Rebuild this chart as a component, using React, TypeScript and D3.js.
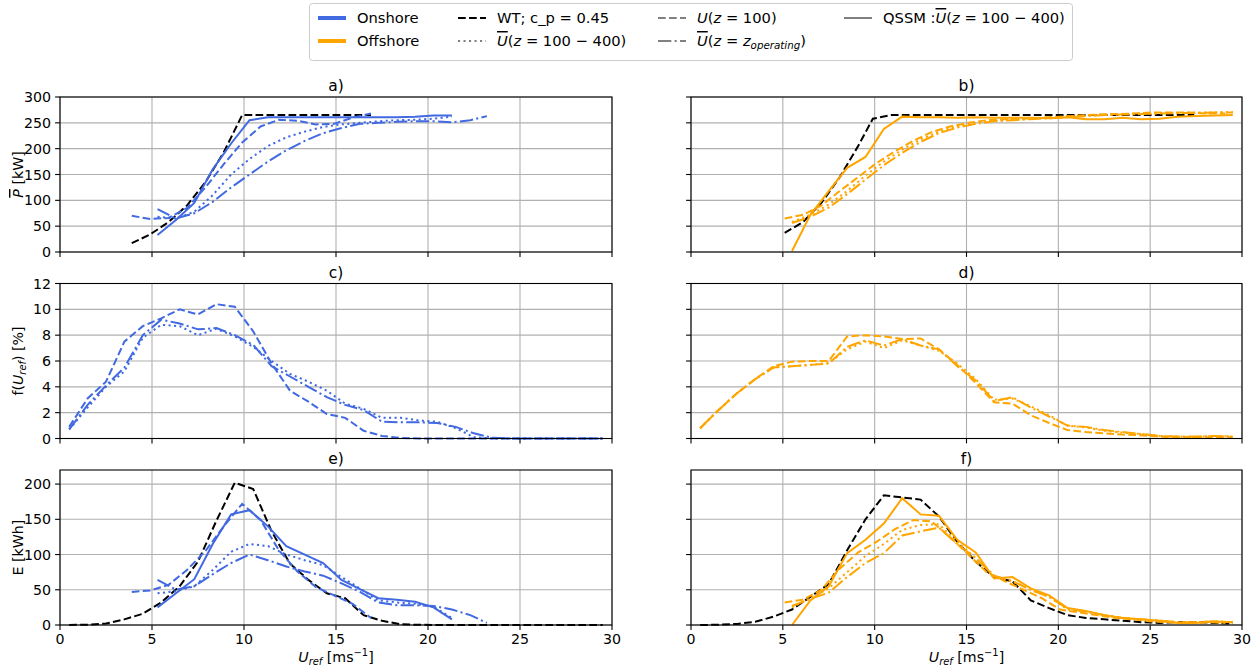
import React from 'react';
import * as d3 from 'd3';

// ---------- data ----------
const xTicks = [0, 5, 10, 15, 20, 25, 30];
const yTicksP = [0, 50, 100, 150, 200, 250, 300];
const yTicksF = [0, 2, 4, 6, 8, 10, 12];
const yTicksE = [0, 50, 100, 150, 200];

// wind speed bins
const xBin = [0.5, 1.5, 2.5, 3.5, 4.5, 5.5, 6.5, 7.5, 8.5, 9.5, 10.5, 11.5, 12.5, 13.5, 14.5,
  15.5, 16.5, 17.5, 18.5, 19.5, 20.5, 21.5, 22.5, 23.5, 24.5, 25.5, 26.5, 27.5, 28.5, 29.5];
const xOn39 = [3.9, 4.9, 5.9, 6.9, 7.9, 8.9, 9.9, 10.9, 11.9, 12.9, 13.9, 14.9, 15.9, 16.9];
const xOn53 = [5.3, 6.3, 7.3, 8.3, 9.3, 10.3, 11.3, 12.3, 13.3, 14.3, 15.3, 16.3, 17.3, 18.3, 19.3, 20.3, 21.3];
const xOn53L = [5.3, 6.3, 7.3, 8.3, 9.3, 10.3, 11.3, 12.3, 13.3, 14.3, 15.3, 16.3, 17.3, 18.3, 19.3,
  20.3, 21.3, 22.3, 23.2];
const xOff55 = [5.5, 6.5, 7.5, 8.5, 9.5, 10.5, 11.5, 12.5, 13.5, 14.5, 15.5, 16.5, 17.5, 18.5, 19.5,
  20.5, 21.5, 22.5, 23.5, 24.5, 25.5, 26.5, 27.5, 28.5, 29.5];
const xOff51 = [5.1, 6.1, 7.1, 8.1, 9.1, 10.1, 11.1, 12.1, 13.1, 14.1, 15.1, 16.1, 17.1, 18.1, 19.1,
  20.1, 21.1, 22.1, 23.1, 24.1, 25.1, 26.1, 27.1, 28.1, 29.1];
const xWtOff = [5.1, 6.1, 7.1, 8.1, 9.1, 9.9, 10.9, 27.4];

// a) onshore mean power [kW]
const aWt = [17, 34, 58, 90, 135, 193, 265, 265, 265, 265, 265, 265, 265, 265];
const aQssm = [33, 62, 95, 160, 210, 255, 261, 261, 261, 261, 261, 261, 261, 261, 262, 264, 264];
const aU100 = [70, 64, 66, 85, 125, 170, 212, 243, 256, 254, 247, 248, 260, 268];
const aUbar = [68, 65, 78, 110, 150, 180, 205, 222, 233, 242, 247, 250, 253, 255, 256, 258, 262];
const aUop = [83, 65, 75, 97, 125, 150, 175, 197, 215, 230, 240, 248, 250, 252, 253, 253, 251, 255, 263];

// b) offshore mean power [kW]
const bWt = [37, 58, 95, 145, 205, 258, 265, 265];
const bQssm = [2, 72, 118, 163, 184, 238, 262, 261, 261, 260, 261, 260, 260, 260, 259, 261, 257, 257,
  260, 257, 258, 262, 263, 264, 265];
const bU100 = [65, 72, 90, 118, 145, 172, 195, 215, 232, 243, 250, 255, 257, 258, 260, 262, 264, 266,
  267, 268, 270, 270, 270, 268, 268];
const bUbar = [58, 72, 92, 118, 148, 175, 198, 218, 233, 243, 250, 254, 256, 258, 260, 262, 264, 266,
  267, 268, 269, 269, 270, 270, 271];
const bUop = [56, 68, 86, 112, 140, 168, 192, 213, 230, 241, 248, 253, 255, 257, 259, 261, 263, 265,
  266, 267, 268, 269, 269, 270, 270];

// c) onshore frequency [%]
const cU100 = [0.9, 3.1, 4.4, 7.5, 8.7, 9.3, 10.0, 9.6, 10.4, 10.2, 8.3, 5.8, 3.7, 2.85, 1.9, 1.6, 0.6,
  0.2, 0.05, 0, 0, 0, 0, 0, 0, 0, 0, 0, 0, 0];
const cUbar = [0.7, 2.4, 4.0, 5.2, 7.8, 8.8, 8.7, 8.0, 8.5, 7.9, 7.1, 6.0, 5.0, 4.4, 3.7, 2.7, 2.3, 1.6,
  1.6, 1.4, 1.3, 0.8, 0.1, 0, 0, 0, 0, 0, 0, 0];
const cUop = [0.7, 2.6, 4.1, 5.5, 8.0, 9.2, 8.9, 8.45, 8.55, 8.0, 7.25, 5.6, 4.8, 4.0, 3.2, 2.6, 2.2, 1.3,
  1.25, 1.25, 1.2, 0.9, 0.4, 0.05, 0, 0, 0, 0, 0, 0];

// d) offshore frequency [%]
const dU100 = [0.8, 2.2, 3.5, 4.6, 5.6, 5.95, 6.0, 6.0, 7.9, 8.0, 7.9, 7.7, 7.75, 6.9, 5.7, 4.3, 2.8,
  2.7, 1.8, 1.2, 0.65, 0.5, 0.4, 0.3, 0.25, 0.15, 0.1, 0.1, 0.1, 0.1];
const dUbar = [0.8, 2.2, 3.5, 4.6, 5.5, 5.6, 5.7, 5.85, 6.9, 7.5, 7.0, 7.6, 7.2, 6.8, 5.8, 4.6, 3.0,
  3.1, 2.5, 1.8, 1.0, 0.85, 0.6, 0.45, 0.35, 0.2, 0.15, 0.1, 0.2, 0.15];
const dUop = [0.8, 2.2, 3.5, 4.6, 5.5, 5.6, 5.7, 5.8, 7.1, 7.6, 7.2, 7.7, 7.2, 6.9, 5.6, 4.5, 2.9,
  3.2, 2.4, 1.7, 1.0, 0.9, 0.65, 0.5, 0.35, 0.2, 0.15, 0.15, 0.2, 0.15];

// e) onshore energy [kWh]
const eWt = [0, 0.5, 2, 8, 16, 32, 55, 90, 148, 202, 193, 133, 87, 64, 45, 38, 14, 6, 1, 0.3, 0, 0, 0,
  0, 0, 0, 0, 0, 0, 0];
const eQssm = [25, 45, 65, 115, 157, 163, 140, 112, 100, 88, 64, 51, 38, 36, 33, 25, 8];
const eU100 = [47, 49, 57, 78, 105, 140, 172, 149, 106, 76, 54, 42, 30, 10];
const eUbar = [45, 48, 55, 78, 104, 115, 112, 100, 92, 85, 68, 52, 35, 32, 30, 26, 10];
const eUop = [64, 50, 55, 72, 88, 100, 92, 83, 76, 70, 59, 47, 32, 28, 28, 27, 22, 14, 3];

// f) offshore energy [kWh]
const fWt = [0, 0.3, 1.5, 4.5, 12, 22, 40, 58, 106, 150, 184, 181, 178, 154, 118, 90, 68, 62, 35, 24,
  14, 10, 8, 6, 4, 3, 4, 4, 3, 2];
const fQssm = [0, 35, 55, 102, 121, 144, 180, 157, 155, 121, 103, 66, 68, 52, 42, 24, 20, 14, 10, 8, 6,
  3, 3, 5, 4];
const fU100 = [32, 36, 50, 80, 103, 118, 136, 149, 147, 125, 100, 75, 62, 50, 38, 22, 18, 14, 10, 8, 5,
  4, 3, 4, 3];
const fUbar = [25, 38, 52, 75, 98, 115, 135, 142, 143, 118, 95, 70, 62, 50, 40, 22, 19, 14, 10, 8, 6,
  4, 4, 5, 4];
const fUop = [27, 37, 46, 68, 88, 102, 127, 133, 138, 115, 95, 70, 62, 50, 40, 23, 19, 14, 10, 8, 6, 4,
  4, 5, 4];

// ---------- styles ----------
const ON = '#4169e1';
const OFF = '#ffa500';
const GREY = '#808080';
const FONT = 'DejaVu Sans, sans-serif';
const FS = 14.2;
const DASH = {
  dashed: '7.7,3.3',
  dotted: '2.1,3.4',
  dashdot: '13.3,3.3,2.1,3.3',
};

type Series = { x: number[]; y: number[]; color: string; dash?: string };

const colX = [[60, 612], [691, 1242]];
const rowTop = [97, 283.5, 470];
const rowH = 155;

function Panel({ col, row, title, yMax, yTicks, series }: {
  col: number; row: number; title: string; yMax: number; yTicks: number[]; series: Series[];
}) {
  const [x0, x1] = colX[col];
  const top = rowTop[row];
  const bottom = top + rowH;
  const x = d3.scaleLinear().domain([0, 30]).range([x0, x1]);
  const y = d3.scaleLinear().domain([0, yMax]).range([bottom, top]);
  const line = d3.line<[number, number]>().x((d) => x(d[0])).y((d) => y(d[1]));
  const showY = col === 0;
  const showX = row === 2;
  return (
    <g>
      {xTicks.map((t) => (
        <line key={'gx' + t} x1={x(t)} x2={x(t)} y1={top} y2={bottom} stroke="#b0b0b0" strokeWidth={1.1} />
      ))}
      {yTicks.map((t) => (
        <line key={'gy' + t} x1={x0} x2={x1} y1={y(t)} y2={y(t)} stroke="#b0b0b0" strokeWidth={1.1} />
      ))}
      {series.map((s, i) => (
        <path key={i} d={line(d3.zip(s.x, s.y) as [number, number][]) || ''} fill="none"
          stroke={s.color} strokeWidth={2} strokeDasharray={s.dash} />
      ))}
      <rect x={x0} y={top} width={x1 - x0} height={rowH} fill="none" stroke="#000" strokeWidth={1.1} />
      {xTicks.map((t) => (
        <g key={'tx' + t}>
          <line x1={x(t)} x2={x(t)} y1={bottom} y2={bottom + 4.9} stroke="#000" strokeWidth={1.1} />
          {showX && (
            <text x={x(t)} y={bottom + 19} textAnchor="middle" fontSize={FS}>{t}</text>
          )}
        </g>
      ))}
      {yTicks.map((t) => (
        <g key={'ty' + t}>
          <line x1={x0 - 4.9} x2={x0} y1={y(t)} y2={y(t)} stroke="#000" strokeWidth={1.1} />
          {showY && (
            <text x={x0 - 9} y={y(t) + 5} textAnchor="end" fontSize={FS}>{t}</text>
          )}
        </g>
      ))}
      <text x={(x0 + x1) / 2} y={top - 6} textAnchor="middle" fontSize={15.5}>{title}</text>
    </g>
  );
}

function Handle({ x, y, color, dash, w = 2 }: { x: number; y: number; color: string; dash?: string; w?: number }) {
  return <line x1={x} x2={x + 28} y1={y} y2={y} stroke={color} strokeWidth={w} strokeDasharray={dash} />;
}

function UBar() {
  return <tspan fontStyle="italic" textDecoration="overline">U</tspan>;
}

export default function App() {
  return (
    <div>
      <style>{'body{margin:0}'}</style>
      <svg width={1253} height={667} style={{ display: 'block' }} fontFamily={FONT}>
        <rect width={1253} height={667} fill="#fff" />
        <Panel col={0} row={0} title="a)" yMax={300} yTicks={yTicksP} series={[
          { x: xOn39, y: aWt, color: '#000', dash: DASH.dashed },
          { x: xOn53, y: aQssm, color: ON },
          { x: xOn39, y: aU100, color: ON, dash: DASH.dashed },
          { x: xOn53, y: aUbar, color: ON, dash: DASH.dotted },
          { x: xOn53L, y: aUop, color: ON, dash: DASH.dashdot },
        ]} />
        <Panel col={1} row={0} title="b)" yMax={300} yTicks={yTicksP} series={[
          { x: xWtOff, y: bWt, color: '#000', dash: DASH.dashed },
          { x: xOff55, y: bQssm, color: OFF },
          { x: xOff51, y: bU100, color: OFF, dash: DASH.dashed },
          { x: xOff55, y: bUbar, color: OFF, dash: DASH.dotted },
          { x: xOff55, y: bUop, color: OFF, dash: DASH.dashdot },
        ]} />
        <Panel col={0} row={1} title="c)" yMax={12} yTicks={yTicksF} series={[
          { x: xBin, y: cU100, color: ON, dash: DASH.dashed },
          { x: xBin, y: cUbar, color: ON, dash: DASH.dotted },
          { x: xBin, y: cUop, color: ON, dash: DASH.dashdot },
        ]} />
        <Panel col={1} row={1} title="d)" yMax={12} yTicks={yTicksF} series={[
          { x: xBin, y: dU100, color: OFF, dash: DASH.dashed },
          { x: xBin, y: dUbar, color: OFF, dash: DASH.dotted },
          { x: xBin, y: dUop, color: OFF, dash: DASH.dashdot },
        ]} />
        <Panel col={0} row={2} title="e)" yMax={220} yTicks={yTicksE} series={[
          { x: xBin, y: eWt, color: '#000', dash: DASH.dashed },
          { x: xOn53, y: eQssm, color: ON },
          { x: xOn39, y: eU100, color: ON, dash: DASH.dashed },
          { x: xOn53, y: eUbar, color: ON, dash: DASH.dotted },
          { x: xOn53L, y: eUop, color: ON, dash: DASH.dashdot },
        ]} />
        <Panel col={1} row={2} title="f)" yMax={220} yTicks={yTicksE} series={[
          { x: xBin, y: fWt, color: '#000', dash: DASH.dashed },
          { x: xOff55, y: fQssm, color: OFF },
          { x: xOff51, y: fU100, color: OFF, dash: DASH.dashed },
          { x: xOff55, y: fUbar, color: OFF, dash: DASH.dotted },
          { x: xOff55, y: fUop, color: OFF, dash: DASH.dashdot },
        ]} />

        {/* y labels */}
        <g fontSize={FS}>
          <text transform="translate(23,174.5) rotate(-90)" textAnchor="middle">
            <tspan fontStyle="italic" textDecoration="overline">P</tspan> [kW]
          </text>
          <text transform="translate(23,361) rotate(-90)" textAnchor="middle">
            f(<tspan fontStyle="italic">U</tspan><tspan fontStyle="italic" fontSize={9.9} dy={3}>ref</tspan>
            <tspan dy={-3}>) [%]</tspan>
          </text>
          <text transform="translate(23,547.5) rotate(-90)" textAnchor="middle">E [kWh]</text>
        </g>

        {/* x labels */}
        {[336, 966.5].map((cx) => (
          <text key={cx} x={cx} y={662} textAnchor="middle" fontSize={FS}>
            <tspan fontStyle="italic">U</tspan><tspan fontStyle="italic" fontSize={9.9} dy={3}>ref</tspan>
            <tspan dy={-3}> [ms</tspan><tspan fontSize={9.9} dy={-6}>−1</tspan><tspan dy={6}>]</tspan>
          </text>
        ))}

        {/* legend */}
        <g fontSize={14.7}>
          <rect x={309.5} y={3.5} width={763} height={57} rx={3} fill="#fff" stroke="#cccccc" strokeWidth={1} />
          <Handle x={318} y={18} color={ON} w={4} />
          <text x={357} y={23}>Onshore</text>
          <Handle x={318} y={41} color={OFF} w={4} />
          <text x={357} y={46}>Offshore</text>

          <Handle x={458} y={18} color="#000" dash={DASH.dashed} />
          <text x={497} y={23}>WT; c_p = 0.45</text>
          <Handle x={458} y={41} color={GREY} dash={DASH.dotted} />
          <text x={497} y={46}><UBar />(<tspan fontStyle="italic">z</tspan> = 100 − 400)</text>

          <Handle x={658} y={18} color={GREY} dash={DASH.dashed} />
          <text x={697} y={23}><tspan fontStyle="italic">U</tspan>(<tspan fontStyle="italic">z</tspan> = 100)</text>
          <Handle x={658} y={41} color={GREY} dash={DASH.dashdot} />
          <text x={697} y={46}>
            <UBar />(<tspan fontStyle="italic">z</tspan> = <tspan fontStyle="italic">z</tspan>
            <tspan fontStyle="italic" fontSize={10.3} dy={3}>operating</tspan><tspan dy={-3}>)</tspan>
          </text>

          <Handle x={844} y={18} color={GREY} />
          <text x={883} y={23}>QSSM :<UBar />(<tspan fontStyle="italic">z</tspan> = 100 − 400)</text>
        </g>
      </svg>
    </div>
  );
}
